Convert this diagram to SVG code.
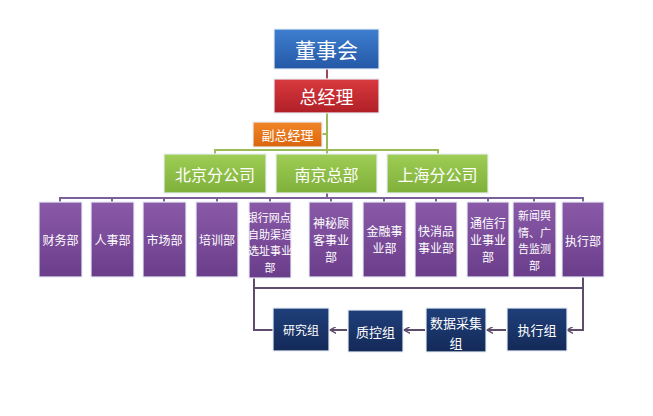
<svg xmlns="http://www.w3.org/2000/svg" width="653" height="416" viewBox="0 0 653 416">
<defs>
<linearGradient id="gBlue" x1="0" y1="0" x2="0" y2="1"><stop offset="0" stop-color="#3f7fd0"/><stop offset="1" stop-color="#2458a6"/></linearGradient>
<linearGradient id="gRed" x1="0" y1="0" x2="0" y2="1"><stop offset="0" stop-color="#d83a3f"/><stop offset="1" stop-color="#b01f26"/></linearGradient>
<linearGradient id="gOrange" x1="0" y1="0" x2="0" y2="1"><stop offset="0" stop-color="#f2862a"/><stop offset="1" stop-color="#d9650c"/></linearGradient>
<linearGradient id="gGreen" x1="0" y1="0" x2="0" y2="1"><stop offset="0" stop-color="#9fcd55"/><stop offset="1" stop-color="#7fb03a"/></linearGradient>
<linearGradient id="gPurple" x1="0" y1="0" x2="0" y2="1"><stop offset="0" stop-color="#8a5aa8"/><stop offset="1" stop-color="#6a3d8a"/></linearGradient>
<linearGradient id="gNavy" x1="0" y1="0" x2="0" y2="1"><stop offset="0" stop-color="#1f3f7a"/><stop offset="1" stop-color="#142a58"/></linearGradient>
<marker id="arr" viewBox="0 0 10 10" refX="9" refY="5" markerWidth="7" markerHeight="7" orient="auto" markerUnits="userSpaceOnUse">
<path d="M10,0 L1,5 L10,10" fill="none" stroke="#5f4b6b" stroke-width="2" transform="rotate(180 5 5)"/>
</marker>
</defs>
<style>
text{font-family:"Microsoft YaHei","Noto Sans CJK SC","Liberation Sans",sans-serif;fill:#ffffff;text-anchor:middle;dominant-baseline:central}
.box{stroke:#e8eef5;stroke-width:1.2}
.blue{fill:url(#gBlue)}.red{fill:url(#gRed)}.org{fill:url(#gOrange)}.grn{fill:url(#gGreen)}.pur{fill:url(#gPurple)}.navy{fill:url(#gNavy)}
.t20{font-size:21px}.t18{font-size:18px}.t13{font-size:13px}.t16{font-size:16px}.t12{font-size:12px}.t11{font-size:11px}
.lr{stroke:#a04858;stroke-width:2;fill:none}
.lg{stroke:#9bbb59;stroke-width:2;fill:none}
.lp{stroke:#7b609a;stroke-width:2;fill:none}
.lb{stroke:#5f4b6b;stroke-width:2;fill:none}
</style>
<rect width="653" height="416" fill="#ffffff"/>
<g id="connectors">
<line class="lr" x1="327" y1="68" x2="327" y2="79"/>
<line class="lg" x1="327" y1="113" x2="327" y2="154"/>
<line class="lg" x1="322" y1="134" x2="327" y2="134"/>
<polyline class="lg" points="215,154 215,150 438,150 438,154"/>
<line class="lp" x1="327" y1="193" x2="327" y2="198"/>
<polyline class="lp" points="60,202 60,198 583,198 583,202"/>
<line class="lp" x1="112" y1="198" x2="112" y2="202"/>
<line class="lp" x1="164" y1="198" x2="164" y2="202"/>
<line class="lp" x1="217" y1="198" x2="217" y2="202"/>
<line class="lp" x1="270" y1="198" x2="270" y2="202"/>
<line class="lp" x1="331" y1="198" x2="331" y2="202"/>
<line class="lp" x1="384" y1="198" x2="384" y2="202"/>
<line class="lp" x1="436" y1="198" x2="436" y2="202"/>
<line class="lp" x1="488" y1="198" x2="488" y2="202"/>
<line class="lp" x1="534" y1="198" x2="534" y2="202"/>
<polyline class="lb" points="254,278 254,288 583,288 583,277"/>
<polyline class="lb" points="254,288 254,330 273,330"/>
<polyline class="lb" points="583,288 583,330 567,330" marker-end="url(#arr)"/>
<line class="lb" x1="347" y1="330" x2="330" y2="330" marker-end="url(#arr)"/>
<line class="lb" x1="425" y1="330" x2="404" y2="330" marker-end="url(#arr)"/>
<line class="lb" x1="506" y1="330" x2="487" y2="330" marker-end="url(#arr)"/>
</g>
<g id="n-dongshihui"><rect class="box blue" x="274" y="29" width="105" height="40"/><text class="t20" x="326.5" y="49">董事会</text></g>
<g id="n-zongjingli"><rect class="box red" x="274" y="79" width="105" height="34"/><text class="t18" x="326.5" y="96">总经理</text></g>
<g id="n-fuzongjingli"><rect class="box org" x="253" y="122" width="69" height="25"/><text class="t13" x="287.5" y="134.5">副总经理</text></g>
<g id="n-beijing"><rect class="box grn" x="164" y="154" width="102" height="39"/><text class="t16" x="215" y="173.5">北京分公司</text></g>
<g id="n-nanjing"><rect class="box grn" x="276" y="154" width="101" height="39"/><text class="t16" x="326.5" y="173.5">南京总部</text></g>
<g id="n-shanghai"><rect class="box grn" x="387" y="154" width="101" height="39"/><text class="t16" x="437.5" y="173.5">上海分公司</text></g>
<g id="n-caiwu"><rect class="box pur" x="39" y="202" width="43" height="75"/><text class="t12" x="60.5" y="239">财务部</text></g>
<g id="n-renshi"><rect class="box pur" x="91" y="202" width="43" height="75"/><text class="t12" x="112.5" y="239">人事部</text></g>
<g id="n-shichang"><rect class="box pur" x="143" y="202" width="43" height="75"/><text class="t12" x="164.5" y="239">市场部</text></g>
<g id="n-peixun"><rect class="box pur" x="196" y="202" width="42" height="75"/><text class="t12" x="217" y="239">培训部</text></g>
<g id="n-yinhang"><rect class="box pur" x="249" y="202" width="42" height="76"/><text class="t11" x="271" y="217">银行网点/</text><text class="t11" x="270" y="234">自助渠道</text><text class="t11" x="270" y="250">选址事业</text><text class="t11" x="270" y="267">部</text></g>
<g id="n-shenmi"><rect class="box pur" x="309" y="202" width="44" height="75"/><text class="t12" x="331" y="222">神秘顾</text><text class="t12" x="331" y="239">客事业</text><text class="t12" x="331" y="256">部</text></g>
<g id="n-jinrong"><rect class="box pur" x="363" y="202" width="43" height="75"/><text class="t12" x="384.5" y="230">金融事</text><text class="t12" x="384.5" y="247">业部</text></g>
<g id="n-kuaixiao"><rect class="box pur" x="415" y="202" width="42" height="75"/><text class="t12" x="436" y="230">快消品</text><text class="t12" x="436" y="247">事业部</text></g>
<g id="n-tongxin"><rect class="box pur" x="467" y="202" width="42" height="75"/><text class="t12" x="488" y="222">通信行</text><text class="t12" x="488" y="239">业事业</text><text class="t12" x="488" y="256">部</text></g>
<g id="n-xinwen"><rect class="box pur" x="513" y="202" width="43" height="75"/><text class="t11" x="534.5" y="215">新闻舆</text><text class="t11" x="534.5" y="232">情、广</text><text class="t11" x="534.5" y="248">告监测</text><text class="t11" x="534.5" y="265">部</text></g>
<g id="n-zhixingbu"><rect class="box pur" x="562" y="202" width="42" height="75"/><text class="t12" x="583" y="240">执行部</text></g>
<g id="n-yanjiu"><rect class="box navy" x="273" y="308" width="56" height="43"/><text class="t12" x="301" y="329">研究组</text></g>
<g id="n-zhikong"><rect class="box navy" x="348" y="310" width="55" height="42"/><text class="t13" x="375.5" y="331">质控组</text></g>
<g id="n-shuju"><rect class="box navy" x="426" y="308" width="60" height="44"/><text class="t13" x="456" y="322">数据采集</text><text class="t13" x="456" y="342">组</text></g>
<g id="n-zhixingzu"><rect class="box navy" x="507" y="308" width="60" height="43"/><text class="t13" x="537" y="329.5">执行组</text></g>
</svg>
